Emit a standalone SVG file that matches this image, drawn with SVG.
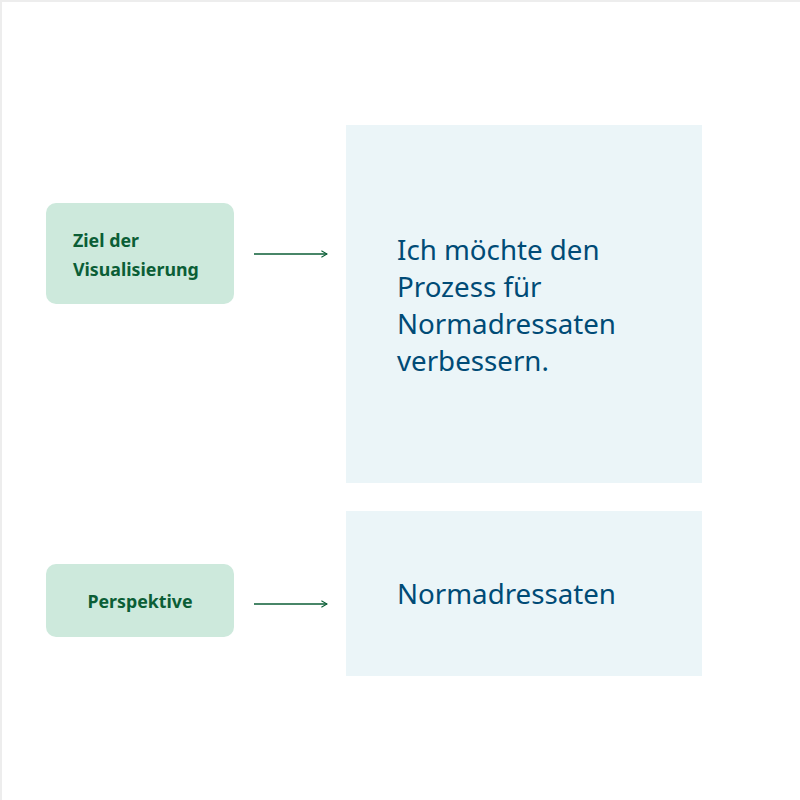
<svg xmlns="http://www.w3.org/2000/svg" width="800" height="800" viewBox="0 0 800 800">
<defs>
<style>
.lbl{fill:#cde9dc}
.lt{font-family:"Noto Sans","Open Sans",sans-serif;font-weight:bold;font-size:17.8px;fill:#0b5e36}
.val{fill:#ebf5f8}
.vt{font-family:"Noto Sans","Open Sans",sans-serif;font-size:27.7px;fill:#004b76}
.con{stroke:#0b5e36;stroke-width:1.3;fill:none}
</style>
<marker id="ah" viewBox="0 0 10 10" refX="9" refY="5" markerWidth="8" markerHeight="8" markerUnits="userSpaceOnUse" orient="auto">
<path d="M2,1 L9,5 L2,9" fill="none" stroke="#0b5e36" stroke-width="1.3"/>
</marker>
</defs>
<rect x="0" y="0" width="800" height="800" fill="#ffffff"/>
<path d="M1,800 V1 H800" fill="none" stroke="#ededed" stroke-width="2"/>
<g id="ziel">
<rect class="lbl" x="46" y="203" width="188" height="101" rx="10"/>
<text class="lt" x="73" y="247">Ziel der</text>
<text class="lt" x="73" y="276">Visualisierung</text>
</g>
<g id="ziel-wert">
<rect class="val" x="346" y="125" width="356" height="358"/>
<text class="vt" x="397" y="260">Ich möchte den</text>
<text class="vt" x="397" y="297">Prozess für</text>
<text class="vt" x="397" y="334">Normadressaten</text>
<text class="vt" x="397" y="371">verbessern.</text>
</g>
<g id="perspektive">
<rect class="lbl" x="46" y="564" width="188" height="73" rx="10"/>
<text class="lt" x="140" y="608" text-anchor="middle">Perspektive</text>
</g>
<g id="perspektive-wert">
<rect class="val" x="346" y="511" width="356" height="165"/>
<text class="vt" x="397" y="604">Normadressaten</text>
</g>
<g id="connectors">
<line class="con" x1="254" y1="254" x2="327" y2="254" marker-end="url(#ah)"/>
<line class="con" x1="254" y1="604" x2="327" y2="604" marker-end="url(#ah)"/>
</g>
</svg>
